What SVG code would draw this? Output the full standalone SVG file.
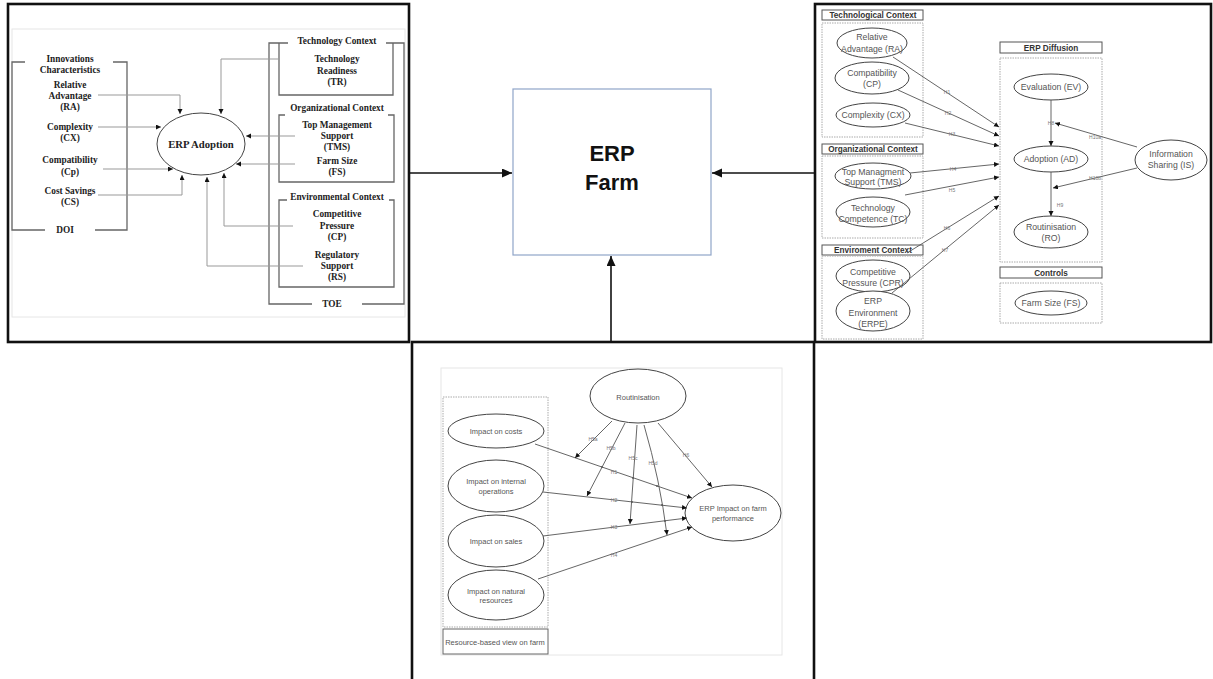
<svg xmlns="http://www.w3.org/2000/svg" width="1213" height="679" viewBox="0 0 1213 679">
  <style>
    .panel { fill: none; stroke: #111; stroke-width: 2.6; }
    .faint { fill: none; stroke: #e6e6e6; stroke-width: 1; }
    .brk { fill: none; stroke: #666; stroke-width: 1.3; }
    .ser { font-family: "Liberation Serif", "Times New Roman", serif; font-weight: bold; font-size: 9.3px; fill: #222; text-anchor: middle; }
    .ser-big { font-family: "Liberation Serif", "Times New Roman", serif; font-weight: bold; font-size: 10.7px; fill: #222; text-anchor: middle; }
    .p1ln { fill: none; stroke: #999; stroke-width: 1; marker-end: url(#tipS); }
    .ell { fill: #fff; stroke: #444; stroke-width: 1; }
    .dot { fill: none; stroke: #aaa; stroke-width: 1; stroke-dasharray: 1.5 1; }
    .hdr { fill: #fff; stroke: #555; stroke-width: 1; }
    .sans { font-family: "Liberation Sans", Arial, sans-serif; font-size: 8.7px; fill: #555; text-anchor: middle; }
    .sans-b { font-family: "Liberation Sans", Arial, sans-serif; font-size: 8.2px; font-weight: bold; fill: #333; text-anchor: middle; }
    .sans3 { font-family: "Liberation Sans", Arial, sans-serif; font-size: 7.5px; fill: #555; text-anchor: middle; }
    .hl { font-family: "Liberation Sans", Arial, sans-serif; font-size: 5px; fill: #777; text-anchor: middle; }
    .edge { fill: none; stroke: #555; stroke-width: 0.9; marker-end: url(#tipS); }
    .xing { fill: #555; }
    .main { fill: none; stroke: #111; stroke-width: 1.6; marker-end: url(#tipB); }
    .big { font-family: "Liberation Sans", Arial, sans-serif; font-weight: bold; font-size: 22px; fill: #111; text-anchor: middle; }
  </style>
  <defs>
    <marker id="tipB" markerUnits="userSpaceOnUse" markerWidth="11" markerHeight="10" refX="10" refY="4.5" orient="auto">
      <path d="M0,0 L10,4.5 L0,9 z" fill="#111"/>
    </marker>
    <marker id="tipS" markerUnits="userSpaceOnUse" markerWidth="6" markerHeight="6" refX="5" refY="2.5" orient="auto">
      <path d="M0,0 L5,2.5 L0,5 z" fill="#111"/>
    </marker>
  </defs>

  <rect width="1213" height="679" fill="#fff"/>

  <!-- Panel frames -->
  <g id="frames">
    <rect class="panel" x="8" y="4" width="401" height="338"/>
    <rect class="panel" x="815" y="4" width="396" height="338"/>
    <rect class="panel" x="412" y="342" width="402" height="345"/>
  </g>

  <!-- ===== DOI / TOE model ===== -->
  <g id="doi-toe">
    <rect class="faint" x="12" y="29" width="393" height="288"/>
    <!-- DOI bracket -->
    <path class="brk" d="M25,62 H12 V230 H45 M95,230 H127 V62 H113"/>
    <text class="ser" x="70" y="62">Innovations</text>
    <text class="ser" x="70" y="73">Characteristics</text>
    <text class="ser" x="70" y="88">Relative</text>
    <text class="ser" x="70" y="99">Advantage</text>
    <text class="ser" x="70" y="110">(RA)</text>
    <text class="ser" x="70" y="130">Complexity</text>
    <text class="ser" x="70" y="141">(CX)</text>
    <text class="ser" x="70" y="163">Compatibility</text>
    <text class="ser" x="70" y="175">(Cp)</text>
    <text class="ser" x="70" y="194">Cost Savings</text>
    <text class="ser" x="70" y="205">(CS)</text>
    <text class="ser" x="65" y="233">DOI</text>

    <!-- TOE bracket -->
    <path class="brk" d="M288,43 H269 V304 H312 M362,304 H404 V43 H386"/>
    <text class="ser" x="337" y="44">Technology Context</text>
    <text class="ser" x="332" y="307">TOE</text>
    <!-- Technology box -->
    <path class="brk" d="M279,43 V95 H393 V43"/>
    <text class="ser" x="337" y="62">Technology</text>
    <text class="ser" x="337" y="74">Readiness</text>
    <text class="ser" x="337" y="85">(TR)</text>
    <!-- Organizational box -->
    <text class="ser" x="337" y="111">Organizational Context</text>
    <path class="brk" d="M285,115 H279 V182 H394 V115 H388"/>
    <text class="ser" x="337" y="128">Top Management</text>
    <text class="ser" x="337" y="139">Support</text>
    <text class="ser" x="337" y="150">(TMS)</text>
    <text class="ser" x="337" y="164">Farm Size</text>
    <text class="ser" x="337" y="175">(FS)</text>
    <!-- Environmental box -->
    <text class="ser" x="337" y="200">Environmental Context</text>
    <path class="brk" d="M287,200 H279 V287 H394 V200 H389"/>
    <text class="ser" x="337" y="217">Competitive</text>
    <text class="ser" x="337" y="229">Pressure</text>
    <text class="ser" x="337" y="240">(CP)</text>
    <text class="ser" x="337" y="258">Regulatory</text>
    <text class="ser" x="337" y="269">Support</text>
    <text class="ser" x="337" y="280">(RS)</text>

    <g id="erp-adoption">
      <ellipse class="ell" cx="201" cy="144" rx="44" ry="31" stroke="#333" stroke-width="1.2"/>
      <text class="ser-big" x="201" y="148">ERP Adoption</text>
    </g>

    <g id="doi-toe-connectors">
      <path class="p1ln" d="M98,95 H180 V114"/>
      <path class="p1ln" d="M98,127 H161"/>
      <path class="p1ln" d="M103,169 H173"/>
      <path class="p1ln" d="M98,195 H182 V175"/>
      <path class="p1ln" d="M279,59 H221 V114"/>
      <path class="p1ln" d="M295,136 H246"/>
      <path class="p1ln" d="M295,164 H236"/>
      <path class="p1ln" d="M293,226 H224 V173"/>
      <path class="p1ln" d="M303,266 H207 V177"/>
    </g>
  </g>

  <!-- ===== Central node ===== -->
  <g id="erp-farm">
    <rect x="513" y="89" width="198" height="166" fill="#fff" stroke="#8fa5c8" stroke-width="1.2"/>
    <text class="big" x="612" y="161">ERP</text>
    <text class="big" x="612" y="190">Farm</text>
  </g>

  <g id="main-connectors">
    <path class="main" d="M409,173 H512"/>
    <path class="main" d="M815,173 H712"/>
    <path class="main" d="M611,342 V256"/>
  </g>

  <!-- ===== ERP diffusion model ===== -->
  <g id="diffusion">
    <g id="tech-context">
      <rect class="hdr" x="822" y="10" width="101" height="10"/>
      <text class="sans-b" x="873" y="18">Technological Context</text>
      <rect class="dot" x="822" y="23" width="101" height="114"/>
    </g>
    <g id="org-context">
      <rect class="hdr" x="822" y="144" width="101" height="10"/>
      <text class="sans-b" x="873" y="152">Organizational Context</text>
      <rect class="dot" x="822" y="156" width="101" height="82"/>
    </g>
    <g id="env-context">
      <rect class="hdr" x="822" y="245" width="101" height="10"/>
      <text class="sans-b" x="873" y="253">Enviroment Context</text>
      <rect class="dot" x="822" y="256" width="101" height="83"/>
    </g>
    <g id="diff-context">
      <rect class="hdr" x="1000" y="42" width="102" height="11"/>
      <text class="sans-b" x="1051" y="50.5">ERP Diffusion</text>
      <rect class="dot" x="1000" y="58" width="102" height="204"/>
    </g>
    <g id="controls">
      <rect class="hdr" x="1000" y="267" width="102" height="11"/>
      <text class="sans-b" x="1051" y="275.5">Controls</text>
      <rect class="dot" x="1000" y="283" width="102" height="40"/>
    </g>

    <g id="ra"><ellipse class="ell" cx="872" cy="43" rx="35" ry="15"/>
      <text class="sans" x="872" y="40">Relative</text><text class="sans" x="872" y="52">Advantage (RA)</text></g>
    <g id="cp"><ellipse class="ell" cx="872" cy="78" rx="37" ry="16"/>
      <text class="sans" x="872" y="76">Compatibility</text><text class="sans" x="872" y="87">(CP)</text></g>
    <g id="cx"><ellipse class="ell" cx="873" cy="115" rx="37" ry="12"/>
      <text class="sans" x="873" y="118">Complexity (CX)</text></g>
    <g id="tms"><ellipse class="ell" cx="873" cy="176" rx="38" ry="13"/>
      <text class="sans" x="873" y="175">Top Managment</text><text class="sans" x="873" y="185">Support (TMS)</text></g>
    <g id="tc"><ellipse class="ell" cx="873" cy="212" rx="37" ry="15"/>
      <text class="sans" x="873" y="211">Technology</text><text class="sans" x="873" y="222">Competence (TC)</text></g>
    <g id="cpr"><ellipse class="ell" cx="873" cy="276" rx="37" ry="16"/>
      <text class="sans" x="873" y="275">Competitive</text><text class="sans" x="873" y="286">Pressure (CPR)</text></g>
    <g id="erpe"><ellipse class="ell" cx="873" cy="311" rx="37" ry="20"/>
      <text class="sans" x="873" y="304">ERP</text><text class="sans" x="873" y="316">Environment</text><text class="sans" x="873" y="327">(ERPE)</text></g>
    <g id="ev"><ellipse class="ell" cx="1051" cy="87" rx="37" ry="13"/>
      <text class="sans" x="1051" y="90">Evaluation (EV)</text></g>
    <g id="ad"><ellipse class="ell" cx="1051" cy="159" rx="37" ry="13"/>
      <text class="sans" x="1051" y="162">Adoption (AD)</text></g>
    <g id="ro"><ellipse class="ell" cx="1051" cy="232" rx="37" ry="16"/>
      <text class="sans" x="1051" y="230">Routinisation</text><text class="sans" x="1051" y="241">(RO)</text></g>
    <g id="fs"><ellipse class="ell" cx="1051" cy="303" rx="36" ry="12"/>
      <text class="sans" x="1051" y="306">Farm Size (FS)</text></g>
    <g id="is"><ellipse class="ell" cx="1171" cy="160" rx="36" ry="20"/>
      <text class="sans" x="1171" y="157">Information</text><text class="sans" x="1171" y="168">Sharing (IS)</text></g>

    <g id="diffusion-connectors">
      <path class="edge" d="M893,57 L999,127"/>
      <path class="edge" d="M898,90 L999,136"/>
      <path class="edge" d="M905,123 L999,146"/>
      <path class="edge" d="M910,173 L999,164"/>
      <path class="edge" d="M905,195 L999,177"/>
      <path class="edge" d="M907,253 L999,196"/>
      <path class="edge" d="M892,293 L999,205"/>
      <path class="edge" d="M1051,100 V146"/>
      <path class="edge" d="M1051,172 V216"/>
      <path class="edge" d="M1137,147 L1055,123"/>
      <path class="edge" d="M1137,168 L1053,188"/>
      <text class="hl" x="947" y="94">H1</text>
      <text class="hl" x="948" y="115">H2</text>
      <text class="hl" x="952" y="136">H3</text>
      <text class="hl" x="953" y="171">H4</text>
      <text class="hl" x="952" y="192">H5</text>
      <text class="hl" x="947" y="230">H6</text>
      <text class="hl" x="945" y="252">H7</text>
      <text class="hl" x="1051" y="125">H8</text>
      <text class="hl" x="1060" y="207">H9</text>
      <text class="hl" x="1095" y="139">H10a</text>
      <text class="hl" x="1095" y="180">H10b</text>
    </g>
  </g>

  <!-- ===== Farm performance model ===== -->
  <g id="performance">
    <rect class="faint" x="441" y="368" width="341" height="287"/>
    <g id="rbv">
      <rect class="dot" x="443" y="397" width="105" height="230"/>
      <rect x="443" y="629" width="105" height="25" fill="#fff" stroke="#666" stroke-width="1"/>
      <text class="sans3" x="495" y="645">Resource-based view on farm</text>
    </g>
    <g id="routinisation"><ellipse class="ell" cx="638" cy="396" rx="48" ry="27"/>
      <text class="sans3" x="638" y="400">Routinisation</text></g>
    <g id="costs"><ellipse class="ell" cx="496" cy="431" rx="48" ry="17"/>
      <text class="sans3" x="496" y="434">Impact on costs</text></g>
    <g id="internal"><ellipse class="ell" cx="496" cy="486" rx="48" ry="26"/>
      <text class="sans3" x="496" y="484">Impact on internal</text><text class="sans3" x="496" y="494">operations</text></g>
    <g id="sales"><ellipse class="ell" cx="496" cy="541" rx="48" ry="26"/>
      <text class="sans3" x="496" y="544">Impact on sales</text></g>
    <g id="natural"><ellipse class="ell" cx="496" cy="595" rx="48" ry="25"/>
      <text class="sans3" x="496" y="594">Impact on natural</text><text class="sans3" x="496" y="603">resources</text></g>
    <g id="impact"><ellipse class="ell" cx="733" cy="513" rx="48" ry="28"/>
      <text class="sans3" x="733" y="511">ERP Impact on farm</text><text class="sans3" x="733" y="521">performance</text></g>

    <g id="performance-connectors">
      <path class="edge" d="M535,444 L692,498"/>
      <path class="edge" d="M543,492 L687,508"/>
      <path class="edge" d="M543,536 L687,518"/>
      <path class="edge" d="M538,579 L692,527"/>
      <path class="edge" d="M612,421 L575,458"/>
      <path class="edge" d="M625,423 L587,496"/>
      <path class="edge" d="M637,425 L630,524"/>
      <path class="edge" d="M644,425 Q660,480 667,535"/>
      <path class="edge" d="M658,423 L712,487"/>
      <!-- crossing dots -->
      <circle class="xing" cx="602" cy="467" r="0.9"/>
      <circle class="xing" cx="633" cy="478" r="0.9"/>
      <circle class="xing" cx="657" cy="486" r="0.9"/>
      <circle class="xing" cx="632" cy="502" r="0.9"/>
      <circle class="xing" cx="662" cy="505" r="0.9"/>
      <circle class="xing" cx="665" cy="521" r="0.9"/>
      <text class="hl" x="614" y="474">H1</text>
      <text class="hl" x="614" y="502">H2</text>
      <text class="hl" x="614" y="529">H3</text>
      <text class="hl" x="614" y="557">H4</text>
      <text class="hl" x="593" y="441">H5a</text>
      <text class="hl" x="611" y="450">H5b</text>
      <text class="hl" x="633" y="460">H5c</text>
      <text class="hl" x="653" y="465">H5d</text>
      <text class="hl" x="686" y="457">H6</text>
    </g>
  </g>
</svg>
